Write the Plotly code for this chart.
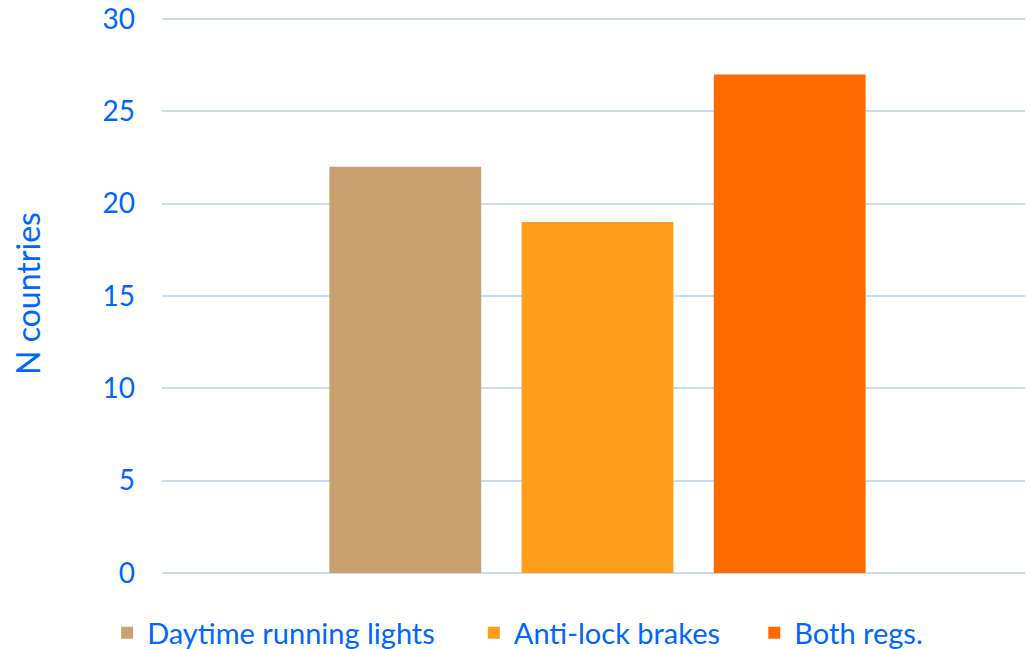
import plotly.graph_objects as go

categories = [""]
series_names = ["Daytime running lights", "Anti-lock brakes", "Both regs."]
series_values = [[22], [19], [27]]
colors = ["#C9A06F", "#FF9E1B", "#FF6A00"]
y_ticks = [0, 5, 10, 15, 20, 25, 30]

font_color = "#0066FF"
font_family = "Lato, Open Sans, sans-serif"
fs = 28

legend_ids = ["legend", "legend2", "legend3"]
legend_x = [-0.063, 0.358, 0.680]

fig = go.Figure()
for name, vals, c, lg in zip(series_names, series_values, colors, legend_ids):
    fig.add_trace(go.Bar(x=categories, y=vals, name=name, legend=lg,
                         marker=dict(color=c, line=dict(width=0))))

legend_common = dict(orientation="h", y=-0.107, yanchor="middle", xanchor="left",
                     font=dict(size=29, color=font_color), bgcolor="rgba(0,0,0,0)")

fig.update_layout(
    width=1025, height=641,
    margin=dict(l=154, r=0, t=6, b=76, autoexpand=False),
    plot_bgcolor="white", paper_bgcolor="white",
    barmode="group", bargap=0.338, bargroupgap=0.21,
    font=dict(family=font_family, color=font_color, size=fs),
    showlegend=True,
    legend=dict(x=legend_x[0], **legend_common),
    legend2=dict(x=legend_x[1], **legend_common),
    legend3=dict(x=legend_x[2], **legend_common),
    xaxis=dict(showticklabels=False, showgrid=False, zeroline=False, showline=False, automargin=False),
    yaxis=dict(range=[0, 30.27], tickvals=y_ticks, showgrid=True, gridcolor="#C5DCF5", gridwidth=2,
               zeroline=True, zerolinecolor="#C5DCF5", zerolinewidth=2,
               showline=False, ticks="", ticklabelstandoff=26, automargin=False,
               ticklabeloverflow="allow",
               tickfont=dict(size=fs, color=font_color),
               title=dict(text="N countries", font=dict(size=32, color=font_color), standoff=55)),
)

fig.write_html("out.html")
